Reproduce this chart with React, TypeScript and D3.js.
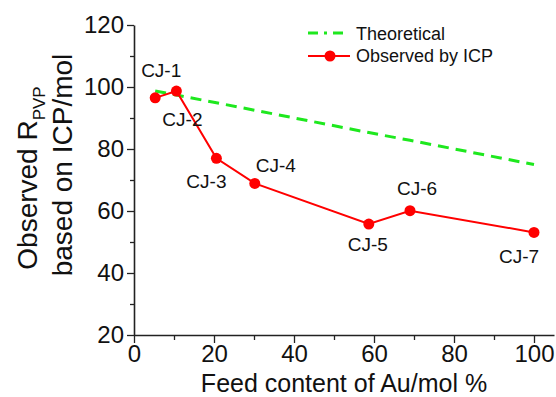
import React, { useEffect, useRef } from 'react';
import * as d3 from 'd3';

// values
const feedContent = [5.3, 10.6, 20.6, 30.2, 58.7, 69, 100];
const observedR = [96.5, 98.7, 77, 68.9, 55.8, 60.1, 53.1];
const theoreticalR = [98.7, 97.4, 94.9, 92.5, 85.3, 82.8, 75];
const sampleNames = ['CJ-1', 'CJ-2', 'CJ-3', 'CJ-4', 'CJ-5', 'CJ-6', 'CJ-7'];
const xTicks = [0, 20, 40, 60, 80, 100];
const yTicks = [20, 40, 60, 80, 100, 120];

// label placement relative to each marker (px)
const labelOffsets: [number, number][] = [
  [6, -21],
  [6, 35],
  [-10, 30],
  [21, -11],
  [-1, 27],
  [7, -16],
  [-15, 31],
];

const W = 556;
const H = 397;
const FONT = "Arial, 'Liberation Sans', sans-serif";

const App = () => {
  const svgRef = useRef<SVGSVGElement>(null);

  useEffect(() => {
    const svg = d3.select(svgRef.current);
    svg.selectAll('*').remove();

    const x = d3.scaleLinear().domain([0, 105]).range([134, 554]);
    const y = d3.scaleLinear().domain([20, 120]).range([335, 25]);

    const axisColor = '#222';

    // minor ticks
    svg
      .append('g')
      .attr('transform', `translate(0,${y(20)})`)
      .call(
        d3
          .axisBottom(x)
          .tickValues(d3.range(10, 105, 20))
          .tickSize(5)
          .tickSizeOuter(0)
          .tickFormat(() => '')
      )
      .call((g) => g.select('.domain').remove());
    svg
      .append('g')
      .attr('transform', `translate(${x(0)},0)`)
      .call(
        d3
          .axisLeft(y)
          .tickValues(d3.range(30, 120, 20))
          .tickSize(4)
          .tickSizeOuter(0)
          .tickFormat(() => '')
      )
      .call((g) => g.select('.domain').remove());

    // major axes
    const xAxis = svg
      .append('g')
      .attr('transform', `translate(0,${y(20)})`)
      .call(d3.axisBottom(x).tickValues(xTicks).tickSize(8).tickPadding(2).tickSizeOuter(0));
    const yAxis = svg
      .append('g')
      .attr('transform', `translate(${x(0)},0)`)
      .call(d3.axisLeft(y).tickValues(yTicks).tickSize(7).tickPadding(3).tickSizeOuter(0));

    [xAxis, yAxis].forEach((g) => {
      g.selectAll('text').style('font-family', FONT).style('font-size', '24px').attr('fill', '#111');
    });
    svg.selectAll('.domain').attr('stroke', axisColor).attr('stroke-width', 1.6);
    svg.selectAll('.tick line').attr('stroke', axisColor).attr('stroke-width', 1.3);

    const pts = feedContent.map((f, i) => ({ f, obs: observedR[i], th: theoreticalR[i], name: sampleNames[i] }));

    // theoretical line
    svg
      .append('path')
      .datum(pts)
      .attr('fill', 'none')
      .attr('stroke', '#1ee81e')
      .attr('stroke-width', 3)
      .attr('stroke-dasharray', '11 7')
      .attr(
        'd',
        d3
          .line<any>()
          .x((d) => x(d.f))
          .y((d) => y(d.th))
      );

    // observed line
    svg
      .append('path')
      .datum(pts)
      .attr('fill', 'none')
      .attr('stroke', '#ff0000')
      .attr('stroke-width', 2)
      .attr(
        'd',
        d3
          .line<any>()
          .x((d) => x(d.f))
          .y((d) => y(d.obs))
      );

    svg
      .selectAll('circle.pt')
      .data(pts)
      .join('circle')
      .attr('class', 'pt')
      .attr('cx', (d) => x(d.f))
      .attr('cy', (d) => y(d.obs))
      .attr('r', 5.5)
      .attr('fill', '#ff0000');

    svg
      .selectAll('text.lbl')
      .data(pts)
      .join('text')
      .attr('class', 'lbl')
      .attr('x', (d, i) => x(d.f) + labelOffsets[i][0])
      .attr('y', (d, i) => y(d.obs) + labelOffsets[i][1])
      .attr('text-anchor', 'middle')
      .style('font-family', FONT)
      .style('font-size', '19px')
      .attr('fill', '#111')
      .text((d) => d.name);

    // legend
    const lg = svg.append('g');
    lg.append('line')
      .attr('x1', 308)
      .attr('x2', 347)
      .attr('y1', 33)
      .attr('y2', 33)
      .attr('stroke', '#1ee81e')
      .attr('stroke-width', 3)
      .attr('stroke-dasharray', '10 6 3 6');
    lg.append('text')
      .attr('x', 356)
      .attr('y', 40)
      .style('font-family', FONT)
      .style('font-size', '18px')
      .attr('fill', '#111')
      .text('Theoretical');
    lg.append('line')
      .attr('x1', 308)
      .attr('x2', 350)
      .attr('y1', 56)
      .attr('y2', 56)
      .attr('stroke', '#ff0000')
      .attr('stroke-width', 2);
    lg.append('circle').attr('cx', 330).attr('cy', 56).attr('r', 5.5).attr('fill', '#ff0000');
    lg.append('text')
      .attr('x', 356)
      .attr('y', 62)
      .style('font-family', FONT)
      .style('font-size', '18px')
      .attr('fill', '#111')
      .text('Observed by ICP');

    // axis titles
    svg
      .append('text')
      .attr('x', (x(0) + x(100)) / 2 + 10)
      .attr('y', 391.5)
      .attr('text-anchor', 'middle')
      .style('font-family', FONT)
      .style('font-size', '25px')
      .attr('fill', '#111')
      .text('Feed content of Au/mol %');

    const t1 = svg
      .append('text')
      .attr('transform', 'translate(37,178) rotate(-90)')
      .attr('text-anchor', 'middle')
      .style('font-family', FONT)
      .style('font-size', '28px')
      .attr('fill', '#111');
    t1.append('tspan').text('Observed R');
    t1.append('tspan').attr('dy', 8).style('font-size', '17px').text('PVP');

    svg
      .append('text')
      .attr('transform', 'translate(72,165) rotate(-90)')
      .attr('text-anchor', 'middle')
      .style('font-family', FONT)
      .style('font-size', '28px')
      .attr('fill', '#111')
      .text('based on ICP/mol');
  }, []);

  return (
    <svg
      ref={svgRef}
      width={W}
      height={H}
      style={{ position: 'absolute', left: 0, top: 0, background: '#fff' }}
    />
  );
};

export default App;
